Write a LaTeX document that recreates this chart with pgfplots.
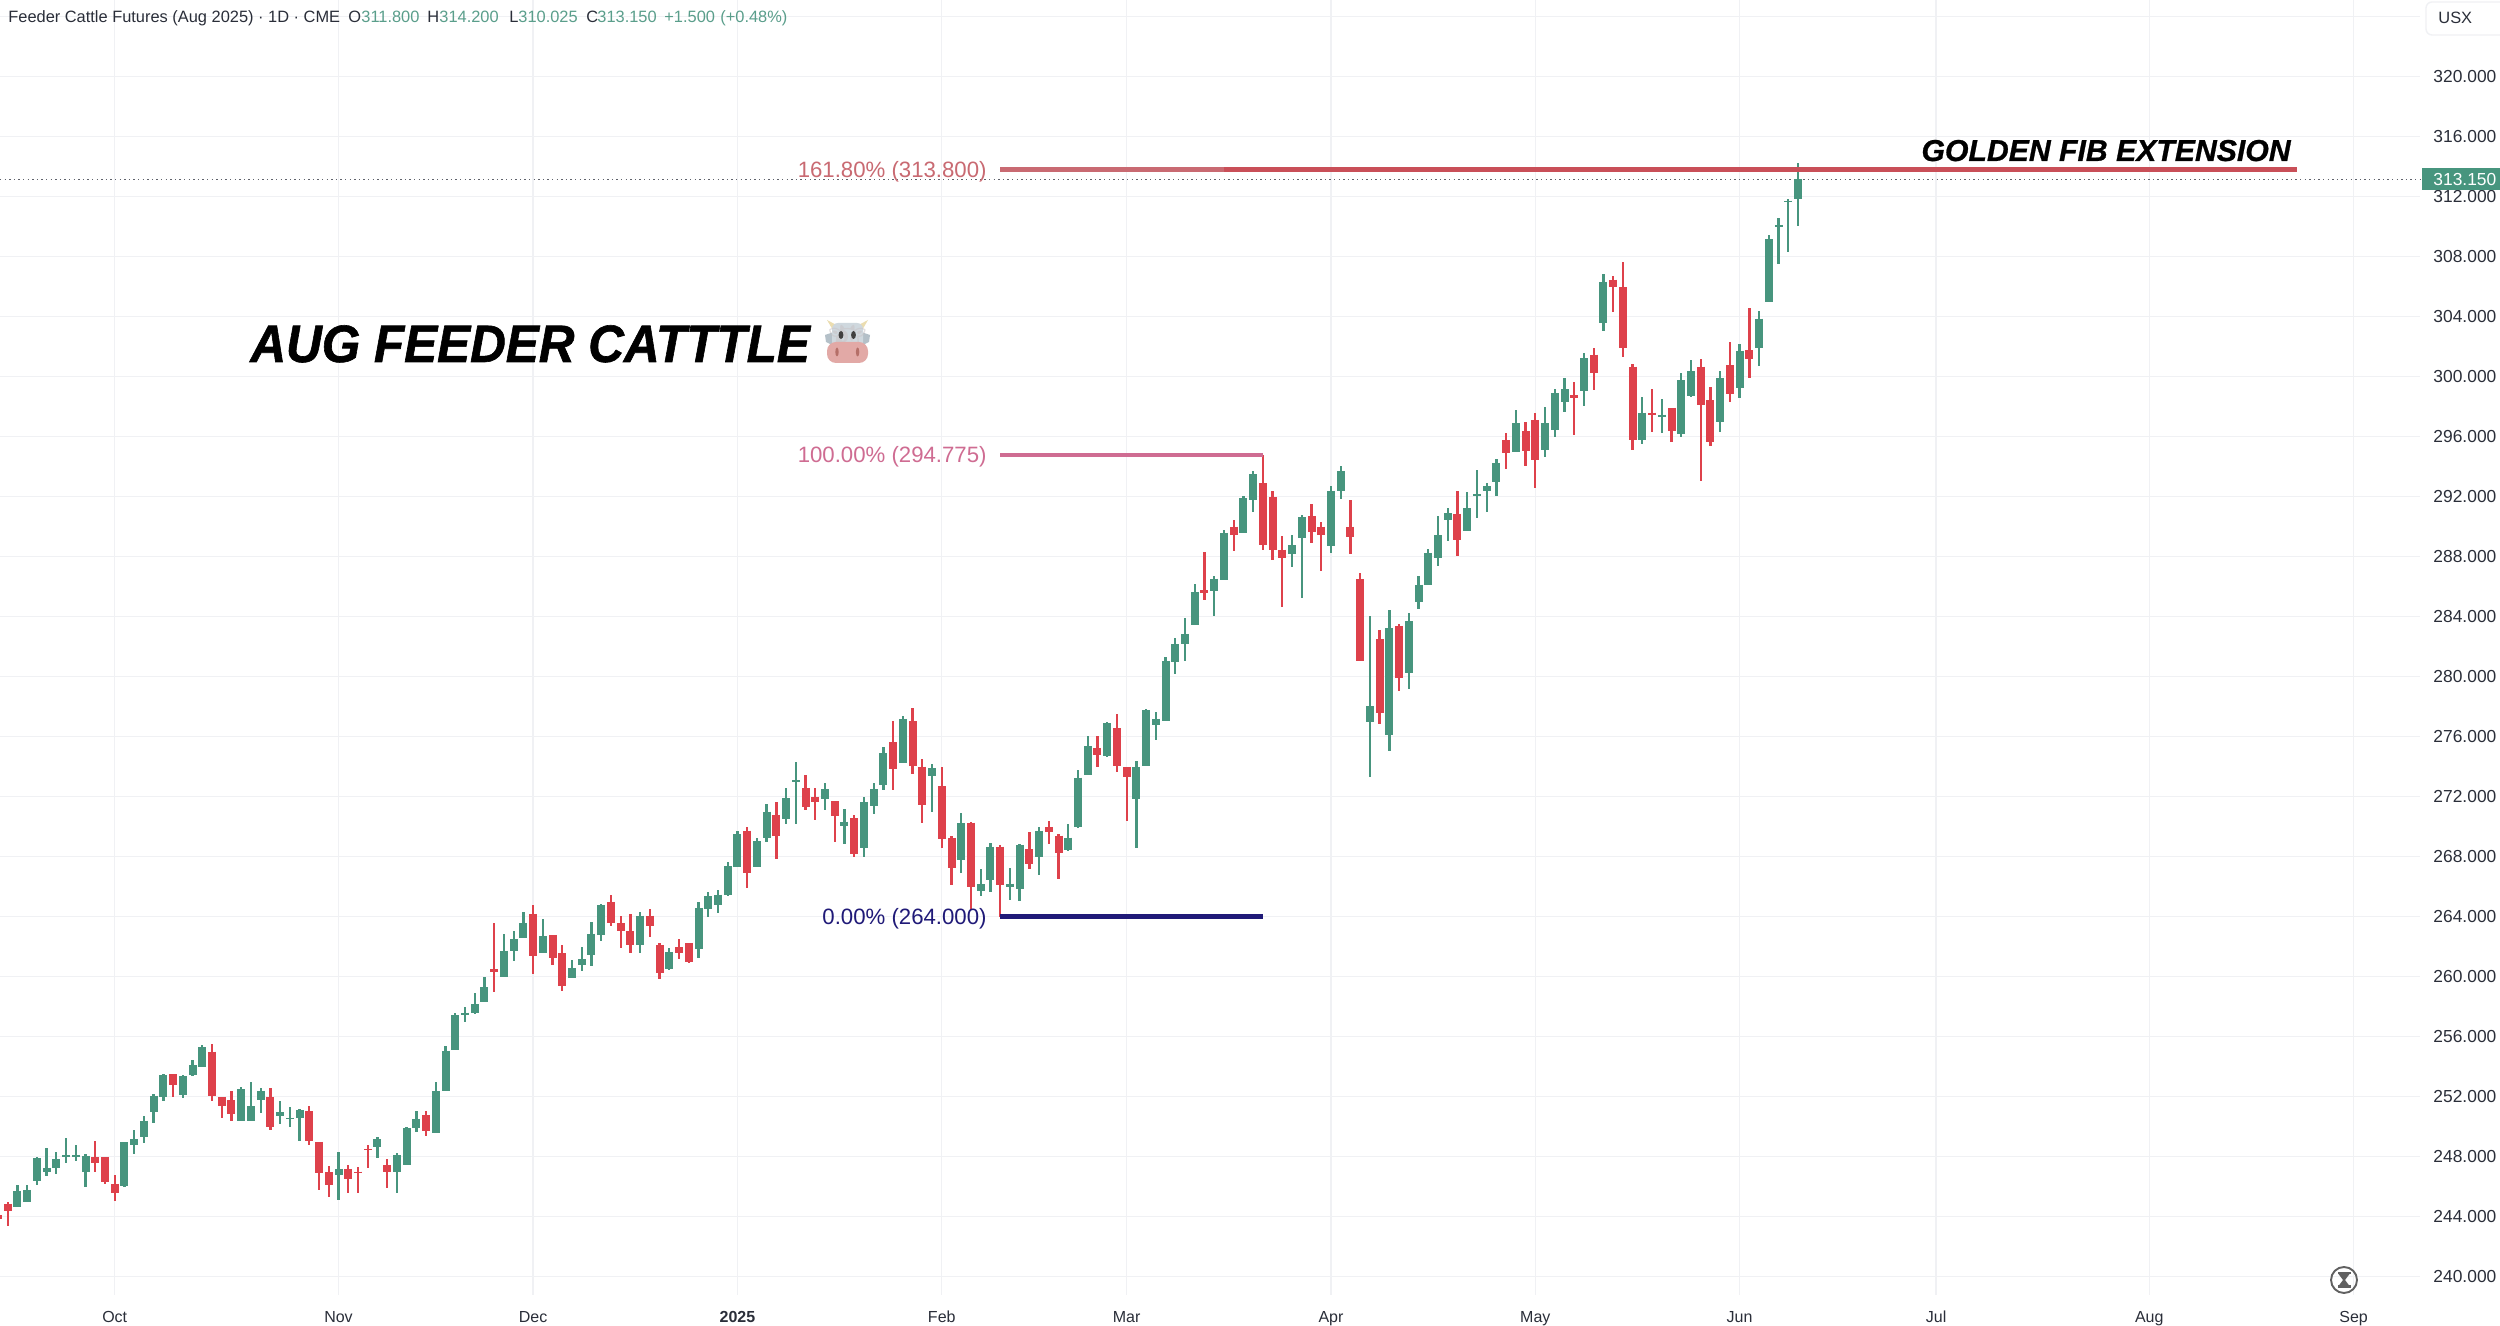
\documentclass[border=0pt]{standalone}
\usepackage{fontspec}
\setmainfont{Liberation Sans}
\newfontfamily\emojifont{Noto Emoji}
\usepackage{pgfplots}
\usepackage{pgfplotstable}
\pgfplotsset{compat=1.18}
\definecolor{up}{HTML}{47957E}
\definecolor{dn}{HTML}{DE414B}
\definecolor{hdr}{HTML}{5A9E8B}
\definecolor{gridc}{HTML}{F0F1F4}
\definecolor{lab}{HTML}{2A2E39}
\definecolor{fiba}{HTML}{C96A72}
\definecolor{fibb}{HTML}{C94F58}
\definecolor{fibc}{HTML}{CF6C92}
\definecolor{fibd}{HTML}{201A78}
\definecolor{cowhorn}{HTML}{EBDDB0}
\definecolor{cowear}{HTML}{B4C0C8}
\definecolor{cowface}{HTML}{CFD8DE}
\definecolor{cowsnout}{HTML}{E2A9A6}
\definecolor{cownose}{HTML}{B56F68}
\definecolor{cowline}{HTML}{C9C3C6}

\pgfplotstableread{
i o h l c
1 244.62 246.09 244.62 245.71
2 244.98 246.07 244.94 245.78
3 246.38 248.00 246.07 247.89
4 246.98 248.54 246.71 247.25
5 247.25 248.31 246.85 247.82
6 247.98 249.25 247.56 248.07
7 248.00 248.76 247.69 248.11
8 247.00 248.18 245.96 248.05
12 246.02 249.00 246.00 248.96
13 248.76 249.78 248.14 249.16
14 249.27 250.67 248.87 250.40
15 250.94 252.14 250.22 252.05
16 252.00 253.47 251.69 253.42
18 252.11 253.42 251.87 253.38
19 253.42 254.45 253.34 254.09
20 254.00 255.42 254.00 255.29
24 250.36 252.62 250.36 252.47
25 250.36 252.98 250.36 251.34
26 251.76 252.56 250.91 252.38
28 250.71 251.69 250.18 250.96
29 250.53 251.29 249.96 250.60
30 250.58 251.16 249.02 251.09
34 246.74 248.27 245.07 247.18
38 248.65 249.27 247.89 249.14
40 247.00 248.25 245.54 248.07
41 247.42 250.00 247.42 249.89
42 249.87 251.02 249.65 250.49
44 249.58 253.00 249.56 252.36
45 252.34 255.38 252.34 255.05
46 255.07 257.56 255.07 257.42
47 257.45 258.00 256.98 257.60
48 257.60 258.89 257.47 258.16
49 258.27 259.96 258.27 259.29
51 259.97 262.81 259.97 261.73
52 261.73 263.04 261.06 262.48
53 262.57 264.30 262.57 263.57
55 261.55 263.84 261.55 262.70
58 259.92 261.08 259.92 260.55
59 260.79 262.00 260.39 261.15
60 261.41 263.61 260.70 262.86
61 262.77 264.84 262.37 264.77
65 262.13 264.28 261.57 264.06
68 260.48 261.88 260.44 261.61
71 261.86 264.97 261.26 264.57
72 264.50 265.66 263.95 265.35
73 264.77 265.77 264.26 265.46
74 265.44 267.64 265.39 267.35
75 267.33 269.73 267.33 269.50
77 267.30 269.24 267.28 269.01
78 269.26 271.50 268.95 270.99
80 270.53 272.57 270.15 271.90
81 272.99 274.28 270.19 273.10
84 271.84 272.88 271.08 272.50
86 270.04 271.15 268.86 270.33
88 268.59 271.95 267.99 271.64
89 271.35 272.93 270.84 272.50
90 272.79 275.28 272.41 274.88
92 274.21 277.35 274.21 277.17
95 273.39 274.17 270.99 273.88
98 267.74 270.90 266.93 270.24
100 265.73 267.17 265.35 266.15
101 266.46 268.88 265.66 268.66
103 265.95 267.21 265.13 266.19
104 265.81 268.84 265.06 268.77
106 267.97 270.00 266.77 269.73
109 268.46 270.15 268.39 269.26
110 269.97 273.79 269.90 273.26
111 273.46 276.06 273.41 275.37
113 274.68 276.99 274.66 276.90
116 271.86 274.37 268.59 273.95
117 274.06 277.84 274.04 277.77
118 276.77 277.66 275.74 277.17
119 277.04 281.33 277.04 281.04
120 281.00 282.57 280.14 282.15
121 282.15 283.90 281.04 282.84
122 283.44 286.15 283.44 285.64
124 285.68 286.73 284.01 286.53
125 286.44 289.75 286.44 289.57
127 289.55 292.01 289.55 291.88
128 291.77 293.68 290.99 293.50
132 288.19 289.46 287.30 288.75
133 289.24 290.79 285.26 290.61
136 288.70 292.73 288.21 292.37
137 292.37 294.01 291.81 293.68
140 276.99 284.06 273.33 278.01
142 276.13 284.41 275.06 283.21
144 280.26 284.24 279.15 283.68
145 285.00 286.68 284.53 286.13
146 286.13 288.48 286.13 288.24
147 287.90 290.70 287.39 289.41
148 290.44 291.21 289.04 290.88
150 289.73 292.28 289.73 291.21
151 292.01 293.77 290.55 292.15
152 292.37 292.88 290.95 292.68
153 293.00 294.50 292.06 294.24
155 294.96 297.76 294.94 296.87
158 295.07 297.94 294.63 296.87
159 296.45 299.17 295.94 298.88
160 298.32 299.87 297.61 299.16
162 299.03 301.54 298.01 301.23
164 303.56 306.85 303.00 306.32
168 295.76 298.61 295.52 297.59
170 297.30 298.52 296.21 297.45
172 296.16 300.21 295.99 299.74
173 298.67 301.10 298.65 300.34
176 296.96 300.34 296.30 299.92
178 299.21 302.14 298.59 301.72
180 301.90 304.34 300.72 303.85
181 304.96 309.45 304.96 309.14
182 309.99 310.54 307.52 310.10
183 311.63 311.85 308.30 311.72
184 311.80 314.20 310.025 313.15
}\greencandles

\pgfplotstableread{
i o h l c
-1 244.07 244.30 243.60 243.82
0 244.85 245.00 243.34 244.34
9 247.98 249.02 246.94 247.60
10 247.98 248.00 246.14 246.29
11 246.18 246.80 245.05 245.54
17 253.47 253.51 251.98 252.74
21 255.00 255.49 251.67 252.02
22 251.98 252.00 250.54 251.34
23 251.76 252.40 250.36 250.85
27 251.98 252.58 249.76 249.98
31 251.02 251.38 248.74 249.05
32 248.98 249.00 245.78 246.91
33 246.96 247.38 245.31 246.11
35 247.18 247.42 245.54 246.47
36 247.00 247.29 245.56 246.91
37 248.51 248.76 247.25 248.42
39 247.42 247.85 245.87 246.98
43 250.76 251.02 249.40 249.71
50 260.48 263.59 258.99 260.33
54 264.17 264.75 260.17 261.35
56 262.77 262.77 260.79 261.21
57 261.55 262.13 259.04 259.39
62 264.97 265.46 263.37 263.57
63 263.57 264.01 261.93 263.04
64 263.04 264.15 261.57 262.13
66 264.06 264.50 262.61 263.39
67 262.08 262.21 259.86 260.21
69 261.95 262.48 261.19 261.57
70 262.24 262.26 260.93 260.95
76 269.73 269.99 265.90 266.90
79 270.77 271.61 267.81 269.39
82 272.57 273.41 271.08 271.33
83 272.00 272.57 270.41 271.66
85 271.68 271.73 268.95 270.73
87 270.55 270.77 267.95 268.19
91 275.64 277.06 272.46 273.86
93 277.01 277.93 273.48 274.04
94 273.99 274.48 270.21 271.44
96 272.68 273.95 268.59 269.15
97 269.24 269.37 266.13 267.26
99 270.26 270.33 264.44 265.95
102 268.66 268.79 264.00 266.08
105 268.48 269.64 267.19 267.53
107 269.97 270.35 268.84 269.64
108 269.39 269.48 266.53 268.26
112 275.24 276.01 273.99 274.75
114 276.55 277.50 273.61 274.01
115 273.97 273.99 270.35 273.33
123 285.75 288.30 285.13 285.57
126 289.99 290.41 288.35 289.46
129 292.90 294.775 288.44 288.79
130 291.97 292.39 287.77 288.46
131 288.46 289.35 284.66 287.93
134 290.70 291.50 288.93 289.66
135 289.99 290.30 287.06 289.46
138 289.99 291.75 288.15 289.28
139 286.48 286.93 281.04 281.04
141 282.48 283.08 276.86 277.57
143 283.37 283.50 279.01 279.90
149 290.86 292.39 288.06 289.13
154 295.74 296.23 293.83 294.92
156 296.36 296.94 294.05 295.01
157 297.10 297.54 292.59 294.43
161 298.76 299.61 296.07 298.54
163 301.45 301.87 299.10 300.25
165 306.45 306.70 304.32 305.96
166 305.94 307.63 301.32 301.92
167 300.65 300.81 295.12 295.79
169 297.59 299.19 296.32 297.45
171 297.90 297.92 295.61 296.39
174 300.65 301.19 293.05 298.12
175 298.41 299.27 295.34 295.61
177 300.74 302.27 298.32 298.81
179 301.76 304.54 299.87 301.19
}\redcandles

\begin{document}
\begin{tikzpicture}
\path[use as bounding box,fill=white] (0,0) rectangle (1250pt,663pt);
\begin{axis}[
  at={(0pt,15.5pt)},anchor=south west,
  scale only axis,width=1210pt,height=647.5pt,
  xmin=-0.791,xmax=247.93,ymin=238.77,ymax=325.1,
  clip=false,
  axis line style={draw=none},
  tick style={draw=none},
  major tick length=0pt,
  grid=major,
  major grid style={draw=gridc,line width=0.7pt},
  xtick={11,34,54,75,96,115,136,157,178,198.2,220.1,241.1},
  xticklabels={Oct,Nov,Dec,\textbf{2025},Feb,Mar,Apr,May,Jun,Jul,Aug,Sep},
  xticklabel style={font=\fontsize{8pt}{10pt}\selectfont,text=lab,anchor=base,yshift=-14pt,inner sep=0pt},
  ytick={240,244,...,320},
  extra y ticks={324},extra y tick labels={},
  yticklabel pos=right,
  yticklabel style={font=\fontsize{8.7pt}{10pt}\selectfont,text=lab,anchor=west,inner sep=0pt,xshift=6.5pt,
    /pgf/number format/fixed,/pgf/number format/fixed zerofill,/pgf/number format/precision=3,
    /pgf/number format/1000 sep={},/pgf/number format/assume math mode=true},
]
% price line
\addplot[forget plot,draw=lab!75,line width=0.7pt,dash pattern=on 0.7pt off 1.6pt] coordinates {(-0.791,313.15)(247.93,313.15)};
% wicks
\addplot[forget plot,draw=none,mark=none,
  error bars/.cd,y dir=both,y explicit,error mark=none,error bar style={draw=up,line width=1.15pt}]
  table[x=i,y=c,y error plus expr=\thisrow{h}-\thisrow{c},y error minus expr=\thisrow{c}-\thisrow{l}] {\greencandles};
\addplot[forget plot,draw=none,mark=none,
  error bars/.cd,y dir=both,y explicit,error mark=none,error bar style={draw=dn,line width=1.15pt}]
  table[x=i,y=c,y error plus expr=\thisrow{h}-\thisrow{c},y error minus expr=\thisrow{c}-\thisrow{l}] {\redcandles};
% bodies
\addplot[forget plot,draw=none,mark=none,
  error bars/.cd,y dir=minus,y explicit,error mark=none,error bar style={draw=up,line width=4pt}]
  table[x=i,y=c,y error minus expr=\thisrow{c}-\thisrow{o}] {\greencandles};
\addplot[forget plot,draw=none,mark=none,
  error bars/.cd,y dir=minus,y explicit,error mark=none,error bar style={draw=dn,line width=4pt}]
  table[x=i,y=o,y error minus expr=\thisrow{o}-\thisrow{c}] {\redcandles};
% fib levels
\addplot[forget plot,draw=fiba,line width=2.6pt] coordinates {(102,313.8)(125,313.8)};
\addplot[forget plot,draw=fibb,line width=2.6pt] coordinates {(125,313.8)(235.25,313.8)};
\addplot[forget plot,draw=fibc,line width=2.2pt] coordinates {(102,294.775)(129,294.775)};
\addplot[forget plot,draw=fibd,line width=2.2pt] coordinates {(102,264)(129,264)};
\end{axis}
\begin{scope}[x=0.5pt,y=-0.5pt,yshift=663pt]
  % header
  \def\hd{\fontsize{8.2pt}{10pt}\selectfont}
  \node[anchor=base west,inner sep=0pt,font=\hd,text=lab] at (8,23) {Feeder Cattle Futures (Aug 2025) · 1D · CME};
  \node[anchor=base west,inner sep=0pt,font=\hd,text=lab] at (348,23) {O};
  \node[anchor=base west,inner sep=0pt,font=\hd,text=hdr] at (361,23) {311.800};
  \node[anchor=base west,inner sep=0pt,font=\hd,text=lab] at (427,23) {H};
  \node[anchor=base west,inner sep=0pt,font=\hd,text=hdr] at (439,23) {314.200};
  \node[anchor=base west,inner sep=0pt,font=\hd,text=lab] at (509,23) {L};
  \node[anchor=base west,inner sep=0pt,font=\hd,text=hdr] at (518,23) {310.025};
  \node[anchor=base west,inner sep=0pt,font=\hd,text=lab] at (586,23) {C};
  \node[anchor=base west,inner sep=0pt,font=\hd,text=hdr] at (597,23) {313.150};
  \node[anchor=base west,inner sep=0pt,font=\hd,text=hdr] at (664,23) {+1.500};
  \node[anchor=base west,inner sep=0pt,font=\hd,text=hdr] at (720,23) {(+0.48\%)};
  % USX
  \draw[draw=gridc,line width=0.7pt,rounded corners=3pt] (2426,2) rectangle (2510,35);
  \node[anchor=base west,inner sep=0pt,font=\fontsize{8.2pt}{10pt}\selectfont,text=lab] at (2438,24) {USX};
  % price tag
  \fill[up] (2422,168.3) rectangle (2500,190.3);
  \node[anchor=west,inner sep=0pt,font=\fontsize{8.7pt}{10pt}\selectfont,text=white] at (2433,179.3) {313.150};
  % fib labels
  \node[anchor=base east,inner sep=0pt,font=\fontsize{11.1pt}{13pt}\selectfont,text=fiba] at (987,177.5) {161.80\% (313.800)};
  \node[anchor=base east,inner sep=0pt,font=\fontsize{11.1pt}{13pt}\selectfont,text=fibc] at (987,463) {100.00\% (294.775)};
  \node[anchor=base east,inner sep=0pt,font=\fontsize{11.1pt}{13pt}\selectfont,text=fibd] at (987,924.5) {0.00\% (264.000)};
  % annotations
  \node[anchor=base east,inner sep=0pt,font=\fontsize{15.1pt}{18pt}\selectfont\bfseries\itshape\addfontfeature{FakeBold=0.8},text=black] at (2291,161) {GOLDEN FIB EXTENSION};
  \node[anchor=base west,inner sep=0pt,font=\fontsize{26.3pt}{30pt}\selectfont\bfseries\itshape\addfontfeature{FakeBold=1.2},text=black] at (250,362) {\scalebox{0.94}[1]{AUG FEEDER CATTTLE}};
  % cow emoji
  \fill[cowhorn] (834,332) -- (827,320) -- (842,328) -- cycle;
  \fill[cowhorn] (861,332) -- (868,320) -- (853,328) -- cycle;
  \fill[cowear] (825,335) -- (834,332) -- (834,346) -- (826,342) -- cycle;
  \fill[cowear] (870,335) -- (861,332) -- (861,346) -- (869,342) -- cycle;
  \fill[cowface,rounded corners=3pt] (832,323) rectangle (863,348);
  \node[inner sep=0pt,font=\fontsize{17pt}{20pt}\selectfont\emojifont,text=cowline,opacity=0.55] at (847.5,342) {🐮};
  \fill[cowsnout,rounded corners=4.5pt] (827,342) rectangle (868,363);
  \fill[black!75] (841,335) ellipse (2.4 and 4);
  \fill[black!75] (853.5,335) ellipse (2.4 and 4);
  \fill[cownose] (837,352) ellipse (1.7 and 4.5);
  \fill[cownose] (857.6,352) ellipse (1.7 and 4.5);
  % hourglass
  \draw[draw=black!62,line width=0.95pt] (2344,1280) circle (13);
  \fill[black!62] (2337.5,1272) rectangle (2350.5,1274.5);
  \fill[black!62] (2337.5,1285.5) rectangle (2350.5,1288);
  \fill[black!62] (2338.5,1274) -- (2349.5,1274) -- (2345,1280) -- (2349.5,1286) -- (2338.5,1286) -- (2343,1280) -- cycle;
\end{scope}
\end{tikzpicture}
\end{document}
